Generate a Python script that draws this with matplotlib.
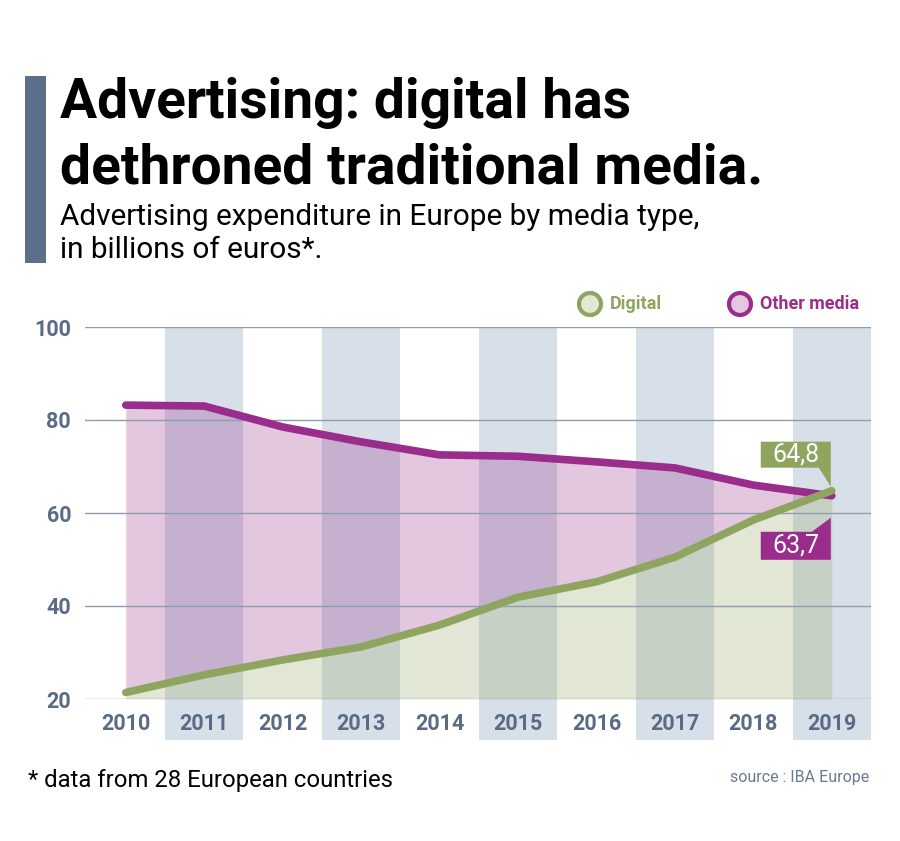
import numpy as np
import matplotlib
matplotlib.use("Agg")
import matplotlib.pyplot as plt
from matplotlib.patches import Polygon, Rectangle, Circle
from matplotlib.transforms import ScaledTranslation

plt.rcParams['font.family'] = ['Roboto', 'DejaVu Sans']

# data
years = [2010, 2011, 2012, 2013, 2014, 2015, 2016, 2017, 2018, 2019]
digital = [21.4, 25.2, 28.4, 31.2, 35.9, 41.9, 45.2, 50.5, 58.5, 64.8]
other = [83.2, 83.0, 78.5, 75.3, 72.5, 72.2, 71.0, 69.7, 66.0, 63.7]
yticks = [20, 40, 60, 80, 100]

green = '#8FA55F'
purple = '#9A2C8B'
band = '#D7DFE8'
axis_txt = '#5A6B85'

fig = plt.figure(figsize=(9, 8.41), dpi=100)
ax = fig.add_axes([85/900, 1-699/841, 786/900, 372/841])

# alternating column bands (odd years), extend under tick labels
for yr in years[1::2]:
    ax.add_patch(Rectangle((yr-0.5, 11.2), 1, 100-11.2, facecolor=band,
                           edgecolor='none', zorder=0, clip_on=False))

x = np.array(years)
d = np.array(digital)
o = np.array(other)
ax.fill_between(x, 20, d, color='#A4B37E', alpha=0.32, lw=0, zorder=1)
ax.fill_between(x, d, o, where=o >= d, interpolate=True, color='#97338C',
                alpha=0.27, lw=0, zorder=1)

for yv in yticks:
    ax.axhline(yv, color='#8F9DB0', lw=1, zorder=2)

ax.plot(x, o, color=purple, lw=5.5, solid_capstyle='round',
        solid_joinstyle='round', zorder=3)
ax.plot(x, d, color=green, lw=5.5, solid_capstyle='round',
        solid_joinstyle='round', zorder=4)

ax.set_xlim(2009.48, 2019.5)
ax.set_ylim(20, 100)
ax.set_xticks(years)
ax.set_xticklabels([str(y) for y in years])
ax.set_yticks(yticks)
ax.tick_params(length=0, labelsize=15.5, labelcolor=axis_txt)
ax.tick_params(axis='x', pad=10)
ax.tick_params(axis='y', pad=10)
for lab in ax.get_xticklabels() + ax.get_yticklabels():
    lab.set_fontweight('bold')
for s in ax.spines.values():
    s.set_visible(False)

# value flags at the last point (pixel offsets /100 -> inches)
def flag(pt, verts, txt, txt_xy, color):
    tr = fig.dpi_scale_trans + ScaledTranslation(pt[0], pt[1], ax.transData)
    v = [(a/100, b/100) for a, b in verts]
    ax.add_patch(Polygon(v, closed=True, facecolor=color, edgecolor='none',
                         transform=tr, clip_on=False, zorder=6))
    ax.text(txt_xy[0]/100, txt_xy[1]/100, txt, transform=tr, color='white',
            fontsize=18, ha='center', va='center', zorder=7)

flag((years[-1], digital[-1]),
     [(-71, 23), (-71, 49), (-1, 49), (-1, 4), (-13, 23)],
     '64,8', (-36, 36), green)
flag((years[-1], other[-1]),
     [(-71, -64), (-71, -36), (-20, -36), (-1, -22), (-1, -64)],
     '63,7', (-36, -50), purple)

# title block
fig.add_artist(Rectangle((25/900, 1-263/841), 21/900, 187/841,
                         facecolor='#5B6E8A', edgecolor='none',
                         transform=fig.transFigure))
fig.text(60/900, 1-118/841, 'Advertising: digital has', fontsize=39.7,
         fontweight='bold', color='black', va='baseline')
fig.text(60/900, 1-183/841, 'dethroned traditional media.', fontsize=39.7,
         fontweight='bold', color='black', va='baseline')
fig.text(60/900, 1-225/841, 'Advertising expenditure in Europe by media type,',
         fontsize=21.4, color='black', va='baseline')
fig.text(60/900, 1-258/841, 'in billions of euros*.', fontsize=21.4,
         color='black', va='baseline')

# legend
for cx, edge, face, label in [(590, green, '#E2E7D6', 'Digital'),
                              (740, purple, '#E3C8E0', 'Other media')]:
    fig.add_artist(Circle((cx, 841-304), 11, facecolor=face, edgecolor=edge,
                          lw=3, transform=None))
    fig.text((cx+20)/900, 1-304/841, label, fontsize=12.9, fontweight='bold',
             color=edge, va='center')

fig.text(28/900, 1-787/841, '* data from 28 European countries', fontsize=17.2,
         color='black', va='baseline')
fig.text(869/900, 1-782/841, 'source : IBA Europe', fontsize=11.5,
         color='#6A7A90', va='baseline', ha='right')

fig.savefig('out.png', dpi=100)
